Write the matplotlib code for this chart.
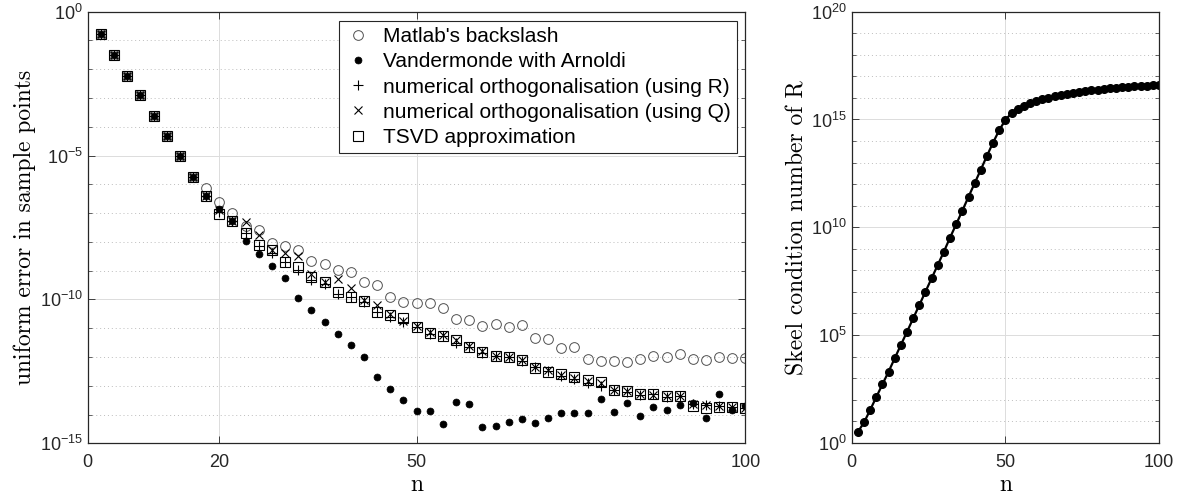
import numpy as np
import matplotlib
matplotlib.use('Agg')
import matplotlib.pyplot as plt
from matplotlib.ticker import NullFormatter

plt.rcParams['font.family'] = ['Liberation Sans', 'DejaVu Sans']
plt.rcParams['mathtext.fontset'] = 'custom'
plt.rcParams['mathtext.rm'] = 'Liberation Sans'
plt.rcParams['axes.unicode_minus'] = False

#-----
# data (log10 of the errors / condition numbers)
n = list(range(2, 101, 2))

start = [-0.79, -1.49, -2.22, -2.91, -3.61, -4.32, -5.01, -5.74]

err_backslash = start + [-6.14, -6.60, -7.01, -7.45, -7.57, -8.03, -8.14, -8.28, -8.67, -8.78,
                         -8.98, -9.04, -9.38, -9.50, -9.93, -10.08, -10.14, -10.14, -10.29, -10.69,
                         -10.72, -10.91, -10.87, -10.96, -10.89, -11.35, -11.38, -11.70, -11.64, -12.08,
                         -12.14, -12.14, -12.19, -12.08, -11.97, -11.99, -11.91, -12.08, -12.11, -11.99,
                         -12.05, -12.05]
err_arnoldi = start + [-6.41, -6.86, -7.27, -7.97, -8.42, -8.84, -9.25, -9.96, -10.37, -10.78,
                       -11.19, -11.60, -12.00, -12.71, -13.11, -13.49, -13.88, -13.88, -14.32, -13.56,
                       -13.65, -14.42, -14.40, -14.25, -14.15, -14.31, -14.11, -13.96, -13.96, -13.96,
                       -13.45, -13.92, -13.59, -14.05, -13.73, -13.84, -13.67, -13.60, -14.11, -13.28,
                       -13.84, -13.71]
err_orth_R = start + [-6.41, -6.95, -7.27, -7.70, -8.15, -8.40, -8.69, -8.98, -9.33, -9.45,
                      -9.80, -9.91, -10.10, -10.43, -10.60, -10.77, -10.95, -11.20, -11.26, -11.50,
                      -11.64, -11.85, -11.97, -11.99, -12.15, -12.35, -12.50, -12.65, -12.75, -12.90,
                      -13.00, -13.15, -13.20, -13.32, -13.30, -13.38, -13.36, -13.62, -13.66, -13.70,
                      -13.75, -13.78]
err_orth_Q = start + [-6.41, -6.88, -7.27, -7.30, -7.76, -8.28, -8.40, -8.49, -9.12, -9.38,
                      -9.30, -9.62, -10.02, -10.19, -10.52, -10.75, -10.92, -11.14, -11.24, -11.40,
                      -11.62, -11.80, -11.95, -11.99, -12.10, -12.35, -12.45, -12.62, -12.72, -12.85,
                      -12.90, -13.15, -13.17, -13.28, -13.32, -13.36, -13.36, -13.64, -13.66, -13.72,
                      -13.75, -13.76]
err_tsvd = start + [-6.41, -7.03, -7.27, -7.70, -8.11, -8.28, -8.69, -8.88, -9.22, -9.40,
                    -9.75, -9.91, -10.05, -10.43, -10.54, -10.66, -10.95, -11.16, -11.26, -11.41,
                    -11.64, -11.82, -11.97, -11.99, -12.11, -12.40, -12.53, -12.60, -12.69, -12.80,
                    -12.87, -13.15, -13.17, -13.29, -13.30, -13.36, -13.36, -13.69, -13.76, -13.74,
                    -13.75, -13.79]

skeel = [0.50, 0.94, 1.52, 2.12, 2.71, 3.30, 3.92, 4.54, 5.15, 5.77,
         6.39, 7.01, 7.63, 8.25, 8.87, 9.52, 10.14, 10.77, 11.41, 12.04,
         12.67, 13.31, 13.93, 14.50, 14.98, 15.29, 15.47, 15.63, 15.75, 15.86,
         15.94, 16.01, 16.07, 16.14, 16.18, 16.23, 16.28, 16.32, 16.35, 16.38,
         16.41, 16.45, 16.48, 16.49, 16.51, 16.54, 16.55, 16.57, 16.58, 16.59]

labels = ["Matlab's backslash", 'Vandermonde with Arnoldi',
          'numerical orthogonalisation (using R)', 'numerical orthogonalisation (using Q)',
          'TSVD approximation']

#-----
def p10(a):
  return 10.0**np.asarray(a)

axcol = '#262626'
fs = 13
lfs = 17

def style(ax, ymaj, ymin_exp, xt):
  ax.set_yscale('log')
  ax.set_xticks(xt)
  ax.set_xticklabels([str(v) for v in xt])
  ax.set_yticks(ymaj)
  ax.set_yticks([10.0**k for k in ymin_exp], minor=True)
  ax.yaxis.set_minor_formatter(NullFormatter())
  ax.tick_params(which='both', direction='in', top=True, right=True, colors=axcol,
                 labelsize=fs, labelcolor='#262626')
  ax.tick_params(which='major', length=5, width=0.6)
  ax.tick_params(which='minor', length=3, width=0.5)
  ax.tick_params(axis='x', which='major', pad=8)
  ax.grid(True, which='major', color='#dcdcdc', lw=0.7, ls='-')
  ax.grid(True, which='minor', axis='y', color='#bdbdbd', lw=0.7, ls=(0, (1, 3)))
  ax.set_axisbelow(True)
  for s in ax.spines.values():
    s.set_color(axcol)
    s.set_linewidth(0.9)

fig = plt.figure(figsize=(11.81, 5.0), dpi=100)

ax1 = fig.add_axes([0.0743, 0.1134, 0.5569, 0.8632])
ax1.plot(n, p10(err_backslash), 'o', ms=7, mfc='none', mec='#505050', mew=0.7, label=labels[0])
ax1.plot(n, p10(err_arnoldi), 'o', ms=5, mfc='k', mec='k', mew=0.5, label=labels[1])
ax1.plot(n, p10(err_orth_R), '+', ms=7, mec='k', mew=0.8, label=labels[2])
ax1.plot(n, p10(err_orth_Q), 'x', ms=6, mec='k', mew=0.8, label=labels[3])
ax1.plot(n, p10(err_tsvd), 's', ms=6.5, mfc='none', mec='k', mew=0.8, label=labels[4])
ax1.set_xlim(0, 100)
ax1.set_ylim(1e-15, 1e0)
style(ax1, [1e-15, 1e-10, 1e-5, 1e0], [k for k in range(-14, 0) if k % 5 != 0], [0, 20, 50, 100])
ax1.set_xlabel('n', family='cmr10', fontsize=lfs, labelpad=2)
ax1.set_ylabel('uniform error in sample points', family='cmr10', fontsize=lfs, labelpad=3)
leg = ax1.legend(loc='upper right', bbox_to_anchor=(0.987, 0.979), borderaxespad=0,
                 fontsize=15, fancybox=False, framealpha=1, edgecolor='#262626',
                 handlelength=1.2, handletextpad=0.6, labelspacing=0.3, borderpad=0.3)
leg.get_frame().set_linewidth(0.8)

ax2 = fig.add_axes([0.7212, 0.1146, 0.2602, 0.862])
ax2.plot(n, p10(skeel), '-o', color='k', lw=1.6, ms=5.5, mfc='k', mec='k')
ax2.set_xlim(0, 100)
ax2.set_ylim(1e0, 1e20)
style(ax2, [1e0, 1e5, 1e10, 1e15, 1e20], [k for k in range(1, 20) if k % 5 != 0], [0, 50, 100])
ax2.set_xlabel('n', family='cmr10', fontsize=lfs, labelpad=2)
ax2.set_ylabel('Skeel condition number of R', family='cmr10', fontsize=lfs, labelpad=2)

plt.savefig('out.png', dpi=100)
